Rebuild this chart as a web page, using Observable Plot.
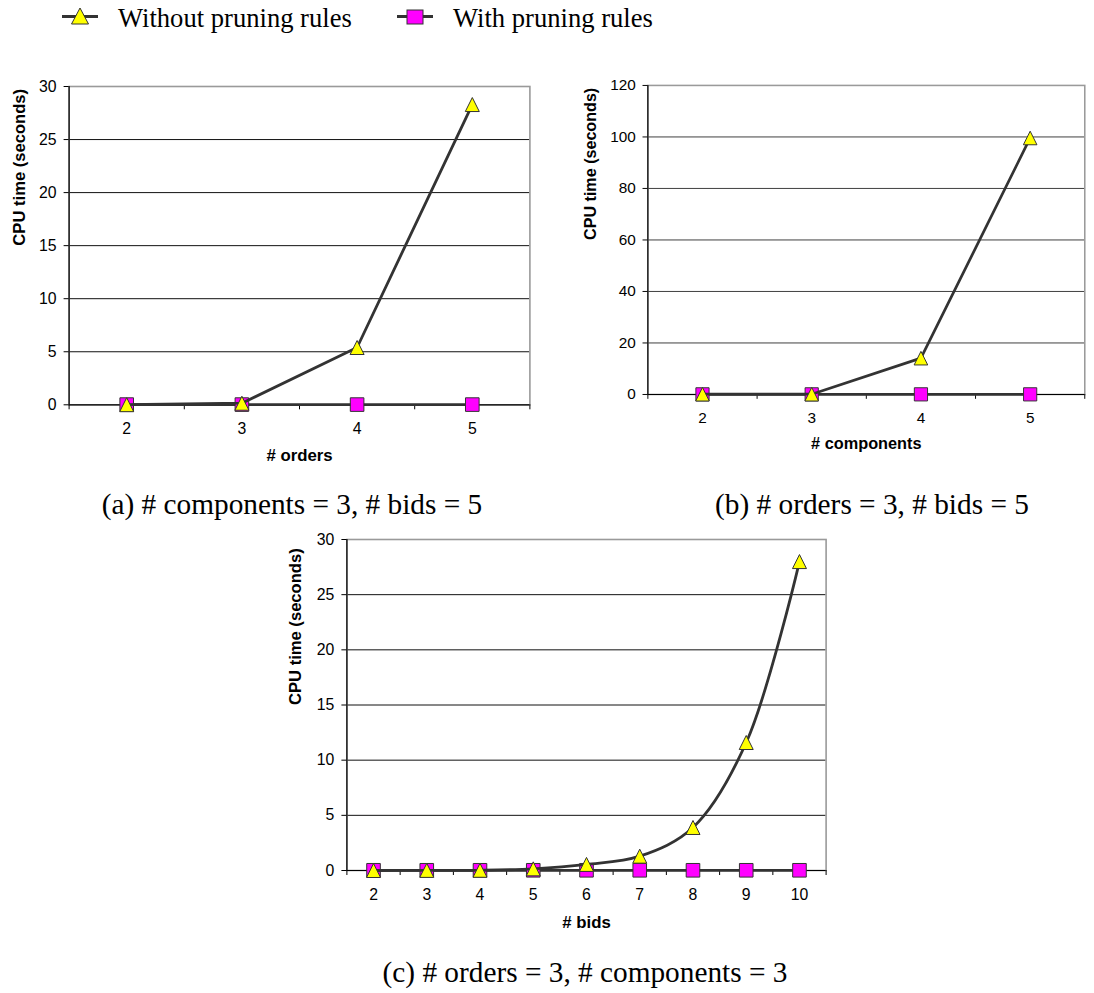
<!DOCTYPE html>
<html>
<head>
<meta charset="utf-8">
<script src="https://cdn.jsdelivr.net/npm/d3@7"></script>
<script src="https://cdn.jsdelivr.net/npm/@observablehq/plot@0.6"></script>
<style>
  html, body { margin: 0; padding: 0; background: #fff; }
  #page { position: relative; width: 1094px; height: 993px; overflow: hidden; background: #fff; }
  .box { position: absolute; }
  .cap { position: absolute; font-family: "Liberation Serif", "Times New Roman", serif; font-size: 29.3px; line-height: 29px; white-space: nowrap; transform: translateX(-50%); color: #000; }
</style>
</head>
<body>
<div id="page">
  <svg id="legend" class="box" style="left:0;top:0" width="700" height="40"></svg>
  <div id="ca" class="box"></div>
  <div id="cb" class="box"></div>
  <div id="cc" class="box"></div>
  <div class="cap" style="left:292px;top:490px">(a) # components = 3, # bids = 5</div>
  <div class="cap" style="left:872px;top:490px">(b) # orders = 3, # bids = 5</div>
  <div class="cap" style="left:585px;top:958px">(c) # orders = 3, # components = 3</div>
</div>
<script>
// ---- data ----
const seriesNames = ["Without pruning rules", "With pruning rules"];

const ordersCats = [2, 3, 4, 5];
const aWithout = [0.01, 0.15, 5.4, 28.3];
const aWith = [0.02, 0.02, 0.02, 0.02];
const aTicks = [0, 5, 10, 15, 20, 25, 30];

const compCats = [2, 3, 4, 5];
const bWithout = [0.1, 0.1, 14.1, 99.6];
const bWith = [0.05, 0.05, 0.05, 0.05];
const bTicks = [0, 20, 40, 60, 80, 100, 120];

const bidsCats = [2, 3, 4, 5, 6, 7, 8, 9, 10];
const cWithout = [0, 0.01, 0.02, 0.15, 0.55, 1.3, 3.9, 11.6, 28.0];
const cWith = [0.02, 0.02, 0.02, 0.02, 0.02, 0.02, 0.02, 0.02, 0.02];
const cTicks = [0, 5, 10, 15, 20, 25, 30];

const yTitle = "CPU time (seconds)";

// ---- styles ----
const LINE = "#333333";
const YELLOW = "#FFFF00";
const MAGENTA = "#FF00FF";

const triSymbol = {
  draw(ctx, size) {
    const r = Math.sqrt(size / Math.PI);
    ctx.moveTo(0, -r);
    ctx.lineTo(r, r);
    ctx.lineTo(-r, r);
    ctx.closePath();
  }
};
const sqSymbol = {
  draw(ctx, size) {
    const r = Math.sqrt(size / Math.PI);
    ctx.rect(-r, -r, 2 * r, 2 * r);
  }
};

function makeChart(cfg) {
  const {cats, without, withP, ticks, xTitle, width, height, mL, mR, mT, mB, gridColor, curve, yTitleDx, xTitleDy} = cfg;
  const rows = [];
  cats.forEach((c, i) => rows.push({x: c, y: withP[i], s: seriesNames[1]}));
  cats.forEach((c, i) => rows.push({x: c, y: without[i], s: seriesNames[0]}));
  const withRows = rows.filter(d => d.s === seriesNames[1]);
  const withoutRows = rows.filter(d => d.s === seriesNames[0]);
  const lo = d3.min(cats) - 0.5, hi = d3.max(cats) + 0.5;
  const bounds = d3.range(lo, hi + 0.001, 1);
  return Plot.plot({
    width, height,
    marginLeft: mL, marginRight: mR, marginTop: mT, marginBottom: mB,
    style: {fontFamily: "'Liberation Sans', Arial, sans-serif", fontSize: "15.8px", color: "#000", background: "transparent", overflow: "visible"},
    x: {domain: [lo, hi]},
    y: {domain: [0, d3.max(ticks)]},
    marks: [
      Plot.ruleY(ticks.slice(1, -1), {stroke: gridColor, strokeWidth: 1}),
      Plot.frame({stroke: "#9a9a9a", strokeWidth: 1.6}),
      Plot.ruleX([lo], {stroke: "#000", strokeWidth: 1.2}),
      Plot.ruleY([0], {stroke: "#000", strokeWidth: 1.2}),
      Plot.axisY({ticks: ticks, tickSize: 5, tickPadding: 7.5, label: null, stroke: "#000", fill: "#000"}),
      Plot.axisX({ticks: bounds, tickSize: 5, tickFormat: () => "", label: null, stroke: "#000"}),
      Plot.axisX({ticks: cats, tickSize: 0, tickPadding: 18, label: null, fill: "#000", tickFormat: d3.format("d")}),
      Plot.line(withRows, {x: "x", y: "y", stroke: LINE, strokeWidth: 2.8}),
      Plot.dot(withRows, {x: "x", y: "y", symbol: sqSymbol, r: 6.8, fill: MAGENTA, stroke: LINE, strokeWidth: 1}),
      Plot.line(withoutRows, {x: "x", y: "y", stroke: LINE, strokeWidth: 2.8, curve}),
      Plot.dot(withoutRows, {x: "x", y: "y", symbol: triSymbol, r: 7, fill: YELLOW, stroke: LINE, strokeWidth: 1}),
      Plot.text([yTitle], {text: d => d, frameAnchor: "left", rotate: -90, dx: yTitleDx, fontWeight: "bold", fontSize: 16.6, fill: "#000"}),
      Plot.text([xTitle], {text: d => d, frameAnchor: "bottom", dy: xTitleDy, fontWeight: "bold", fontSize: 16.8, fill: "#000"})
    ]
  });
}

// chart (a): box at left 0, top 50
const elA = document.getElementById("ca");
elA.style.left = "0px"; elA.style.top = "50px";
elA.appendChild(makeChart({
  cats: ordersCats, without: aWithout, withP: aWith, ticks: aTicks, xTitle: "# orders",
  width: 545, height: 430, mL: 68.6, mR: 15.6, mT: 36, mB: 75.7,
  gridColor: "#111", curve: "linear", yTitleDx: -49.6, xTitleDy: 55.7
}));

// chart (b): box at left 560, top 50 (right part clipped by page)
const elB = document.getElementById("cb");
elB.style.left = "560px"; elB.style.top = "50px";
elB.appendChild(makeChart({
  cats: compCats, without: bWithout, withP: bWith, ticks: bTicks, xTitle: "# components",
  width: 550, height: 430, mL: 90, mR: 10, mT: 36, mB: 75.7,
  gridColor: "#3a3a3a", curve: "linear", yTitleDx: -59, xTitleDy: 55.7
}));

// chart (c): box at left 270, top 500
const elC = document.getElementById("cc");
elC.style.left = "270px"; elC.style.top = "500px";
elC.appendChild(makeChart({
  cats: bidsCats, without: cWithout, withP: cWith, ticks: cTicks, xTitle: "# bids",
  width: 575, height: 450, mL: 76.4, mR: 19.4, mT: 39, mB: 80,
  gridColor: "#111", curve: "catmull-rom", yTitleDx: -51.4, xTitleDy: 57
}));

// legend
const ns = "http://www.w3.org/2000/svg";
const lg = document.getElementById("legend");
function el(tag, attrs, text) {
  const e = document.createElementNS(ns, tag);
  for (const k in attrs) e.setAttribute(k, attrs[k]);
  if (text) e.textContent = text;
  lg.appendChild(e);
  return e;
}
const legendItems = [
  {name: seriesNames[0], lineX: 62, sym: "tri", symX: 80, textX: 118},
  {name: seriesNames[1], lineX: 397, sym: "sq", symX: 415, textX: 453}
];
legendItems.forEach(it => {
  el("line", {x1: it.lineX, x2: it.lineX + 36, y1: 16.5, y2: 16.5, stroke: LINE, "stroke-width": 3});
  if (it.sym === "tri") {
    el("polygon", {points: `${it.symX},8 ${it.symX + 8.5},24 ${it.symX - 8.5},24`, fill: YELLOW, stroke: LINE, "stroke-width": 1});
  } else {
    el("rect", {x: it.symX - 8, y: 10, width: 16, height: 14, fill: MAGENTA, stroke: LINE, "stroke-width": 1});
  }
  el("text", {x: it.textX, y: 26.7, "font-family": "'Liberation Serif', 'Times New Roman', serif", "font-size": 26.6, fill: "#000"}, it.name);
});
</script>
</body>
</html>
